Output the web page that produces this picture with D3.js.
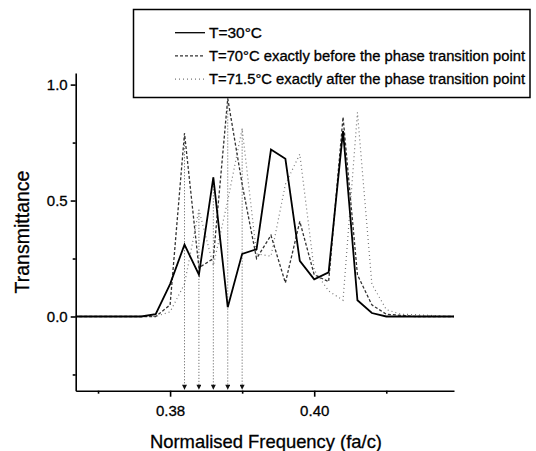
<!DOCTYPE html>
<html>
<head>
<meta charset="utf-8">
<script src="https://cdn.jsdelivr.net/npm/d3@7"></script>
<style>
  body { margin: 0; background: #fff; }
  svg { display: block; font-family: "Liberation Sans", Arial, sans-serif; }
  svg text { stroke: #000; stroke-width: 0.3; }
  .axis path, .axis line { stroke: #000; stroke-width: 1.6; }
  .axis text { fill: #000; font-size: 15px; }
</style>
</head>
<body>
<div id="chart"></div>
<script>
// normalised frequency (fa/c), sampled every 0.002
const freq = [0.366, 0.368, 0.370, 0.372, 0.374, 0.376, 0.378, 0.380, 0.382, 0.384,
  0.386, 0.388, 0.390, 0.392, 0.394, 0.396, 0.398, 0.400, 0.402, 0.404,
  0.406, 0.408, 0.410, 0.412, 0.414, 0.416, 0.418, 0.420];

// transmittance, T=30C
const t30 = [0, 0, 0, 0, 0, 0, 0.01, 0.14, 0.31, 0.18,
  0.60, 0.04, 0.27, 0.29, 0.72, 0.68, 0.24, 0.16, 0.19, 0.80,
  0.07, 0.015, 0, 0, 0, 0, 0, 0];

// T=70C, exactly before the phase transition
const t70 = [0, 0, 0, 0, 0, 0, 0, 0.05, 0.79, 0.21,
  0.25, 0.94, 0.57, 0.25, 0.35, 0.145, 0.41, 0.18, 0.15, 0.86,
  0.18, 0.05, 0.01, 0.005, 0, 0, 0, 0];

// T=71.5C, exactly after the phase transition
const t715 = [0, 0, 0, 0, 0, 0, 0, 0.02, 0.14, 0.46,
  0.22, 0.50, 0.81, 0.27, 0.26, 0.57, 0.70, 0.20, 0.11, 0.07,
  0.88, 0.14, 0.03, 0.01, 0.008, 0.005, 0, 0];

// peaks marked with arrows down to the frequency axis
const arrowFreq = [0.382, 0.384, 0.386, 0.388, 0.390];
const arrowTop = [0.79, 0.46, 0.60, 0.94, 0.81];

const yMajor = [0, 0.5, 1.0];
const yMinor = [-0.25, 0.25, 0.75];
const xMajor = [0.38, 0.40];
const xMinor = [0.37, 0.39, 0.41];

const legendLabels = [
  "T=30°C",
  "T=70°C exactly before the phase transition point",
  "T=71.5°C exactly after the phase transition point"
];

const width = 536, height = 451;
const margin = { top: 73, right: 82, bottom: 60.3, left: 75.7 };

const svg = d3.select("#chart")
  .append("svg")
  .attr("width", width)
  .attr("height", height);

const x = d3.scaleLinear()
  .domain([0.3669, 0.4194])
  .range([margin.left, width - margin.right]);

const y = d3.scaleLinear()
  .domain([-0.32, 1.05])
  .range([height - margin.bottom, margin.top]);

svg.append("clipPath")
  .attr("id", "plotClip")
  .append("rect")
  .attr("x", margin.left)
  .attr("y", margin.top)
  .attr("width", width - margin.left - margin.right)
  .attr("height", height - margin.top - margin.bottom);

// arrows marking the peaks
svg.append("defs")
  .append("marker")
  .attr("id", "arrowHead")
  .attr("viewBox", "0 0 6 6")
  .attr("refX", 3)
  .attr("refY", 6)
  .attr("markerWidth", 5)
  .attr("markerHeight", 6)
  .attr("markerUnits", "userSpaceOnUse")
  .attr("orient", "0")
  .append("path")
  .attr("d", "M0,0 L6,0 L3,6 Z")
  .attr("fill", "#111");

svg.append("g")
  .selectAll("line")
  .data(arrowFreq)
  .enter()
  .append("line")
  .attr("x1", function (d) { return x(d); })
  .attr("x2", function (d) { return x(d); })
  .attr("y1", function (d, i) { return y(arrowTop[i]); })
  .attr("y2", y.range()[0] - 1)
  .attr("stroke", "#555")
  .attr("stroke-width", 1)
  .attr("stroke-dasharray", "1,2")
  .attr("marker-end", "url(#arrowHead)");

const series = [
  { values: t715, stroke: "#777", width: 1.2, dash: "1,3" },
  { values: t70, stroke: "#333", width: 1.3, dash: "3,2" },
  { values: t30, stroke: "#000", width: 1.8, dash: null }
];

const line = d3.line()
  .x(function (d) { return x(d[0]); })
  .y(function (d) { return y(d[1]); });

const plot = svg.append("g").attr("clip-path", "url(#plotClip)");

series.forEach(function (s) {
  plot.append("path")
    .datum(freq.map(function (f, i) { return [f, s.values[i]]; }))
    .attr("fill", "none")
    .attr("stroke", s.stroke)
    .attr("stroke-width", s.width)
    .attr("stroke-dasharray", s.dash)
    .attr("stroke-linejoin", "miter")
    .attr("d", line);
});

// axes
const xAxisY = y.range()[0];

svg.append("g")
  .attr("class", "axis")
  .attr("transform", "translate(0," + xAxisY + ")")
  .call(d3.axisBottom(x).tickValues(xMajor).tickFormat(d3.format(".2f"))
    .tickSize(6).tickSizeOuter(0).tickPadding(9));

svg.append("g")
  .attr("class", "axis")
  .attr("transform", "translate(0," + xAxisY + ")")
  .call(d3.axisBottom(x).tickValues(xMinor).tickFormat("").tickSize(3).tickSizeOuter(0))
  .select(".domain").remove();

svg.append("g")
  .attr("class", "axis")
  .attr("transform", "translate(" + margin.left + ",0)")
  .call(d3.axisLeft(y).tickValues(yMajor).tickFormat(d3.format(".1f"))
    .tickSize(5).tickSizeOuter(0).tickPadding(3));

svg.append("g")
  .attr("class", "axis")
  .attr("transform", "translate(" + margin.left + ",0)")
  .call(d3.axisLeft(y).tickValues(yMinor).tickFormat("").tickSize(3).tickSizeOuter(0))
  .select(".domain").remove();

// axis titles
svg.append("text")
  .attr("x", 266)
  .attr("y", 448)
  .attr("text-anchor", "middle")
  .attr("font-size", 18.4)
  .text("Normalised Frequency (fa/c)");

svg.append("text")
  .attr("transform", "translate(29,232) rotate(-90)")
  .attr("text-anchor", "middle")
  .attr("font-size", 19.5)
  .text("Transmittance");

// legend
const legend = svg.append("g");

legend.append("rect")
  .attr("x", 133.5)
  .attr("y", 9.5)
  .attr("width", 396.5)
  .attr("height", 88)
  .attr("fill", "#fff")
  .attr("stroke", "#000")
  .attr("stroke-width", 1.5);

const legendRows = legend.selectAll("g.row")
  .data(series.slice().reverse())
  .enter()
  .append("g")
  .attr("class", "row")
  .attr("transform", function (d, i) { return "translate(0," + (32.7 + i * 23.2) + ")"; });

legendRows.append("line")
  .attr("x1", 175)
  .attr("x2", 205)
  .attr("stroke", function (d) { return d.stroke; })
  .attr("stroke-width", function (d) { return Math.min(d.width, 1.3); })
  .attr("stroke-dasharray", function (d) { return d.dash; });

legendRows.append("text")
  .attr("x", 209)
  .attr("y", 4.8)
  .attr("font-size", 13.8)
  .attr("textLength", function (d, i) { return i === 0 ? 53 : 316; })
  .attr("lengthAdjust", "spacingAndGlyphs")
  .text(function (d, i) { return legendLabels[i]; });
</script>
</body>
</html>
